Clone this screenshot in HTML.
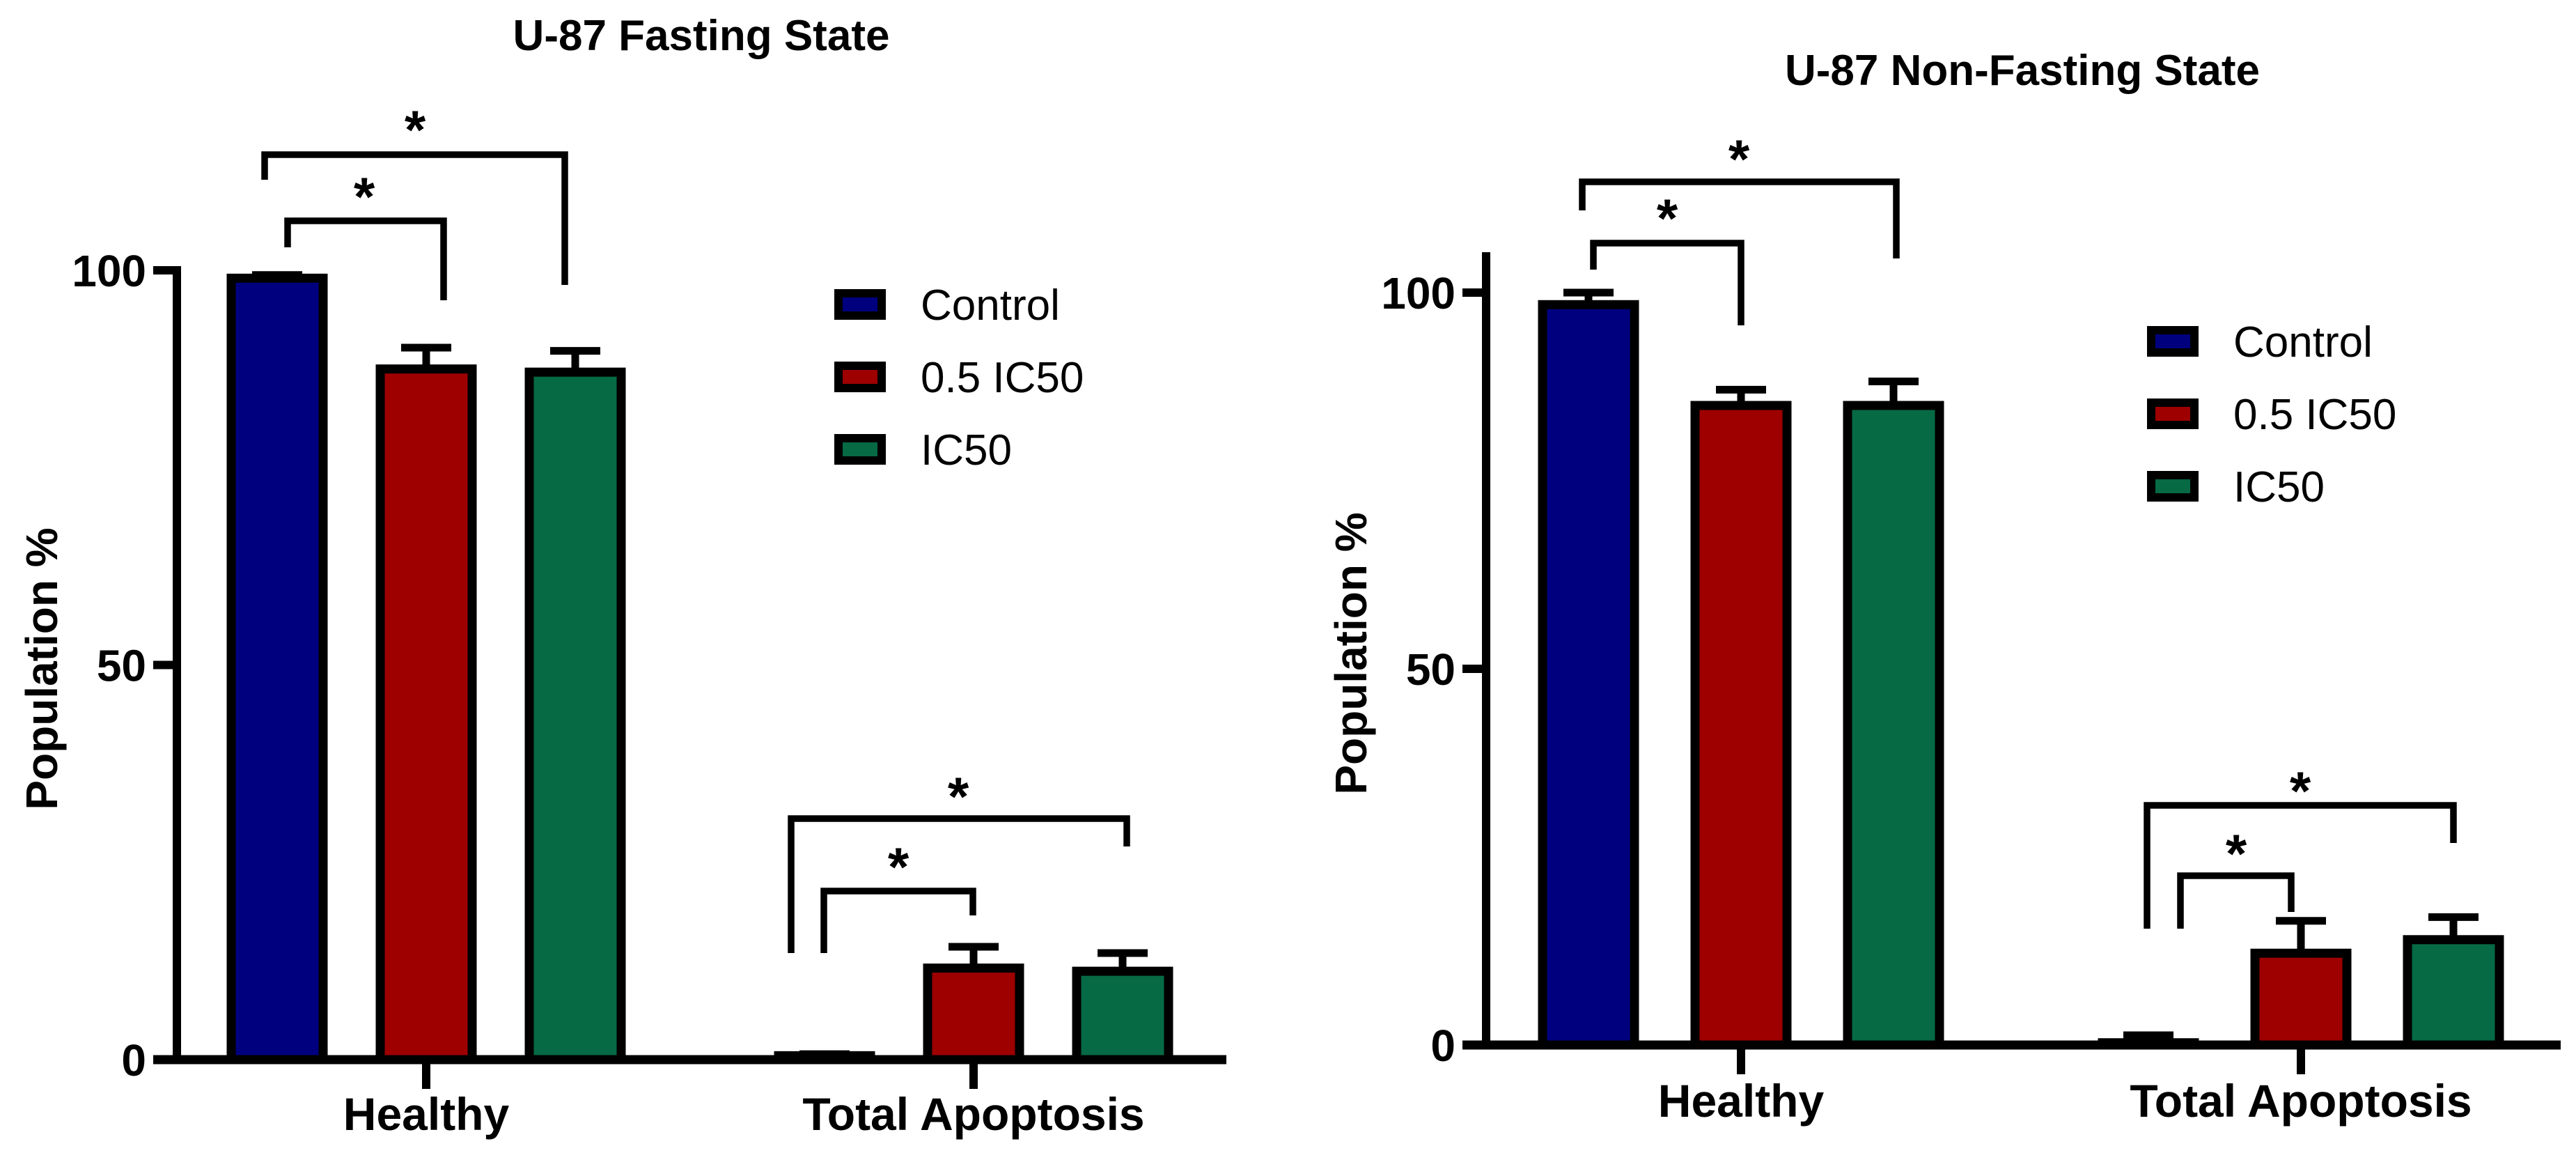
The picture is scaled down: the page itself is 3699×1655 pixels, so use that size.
<!DOCTYPE html>
<html><head><meta charset="utf-8"><style>
html,body{margin:0;padding:0;background:#fff;}
svg{display:block;font-family:"Liberation Sans",Arial,sans-serif;}
</style></head><body>
<svg id="chart" width="3699" height="1655" viewBox="0 0 3699 1655" xmlns="http://www.w3.org/2000/svg"></svg>
<script>
const categories = ["Healthy", "Total Apoptosis"];
const seriesNames = ["Control", "0.5 IC50", "IC50"];
const colors = ["#00007f", "#9e0000", "#066a44"];
const fastMeans = [[99.0, 0.5], [87.5, 11.6], [87.1, 11.2]];
const fastErr = [[0.4, 0.2], [2.7, 2.7], [2.7, 2.3]];
const nonMeans = [[98.4, 0.3], [85.0, 12.2], [85.0, 14.0]];
const nonErr = [[1.6, 1.0], [2.1, 4.3], [3.2, 3.0]];
const yTicks = [0, 50, 100];

const NS = "http://www.w3.org/2000/svg";
const svg = document.getElementById("chart");
function mk(tag, attrs, parent) {
  const e = document.createElementNS(NS, tag);
  for (const k in attrs) e.setAttribute(k, attrs[k]);
  (parent || svg).appendChild(e);
  return e;
}

const panels = [
  {title: "U-87 Fasting State", means: fastMeans, err: fastErr, key: "fasting",
   ax: 254, y0: 1521, y100: 388, axTop: 388, xEnd: 1761, groups: [612, 1398], step: 214, bw: 132,
   titleX: 1007, titleY: 72, ytX: 60, ytY: 960, catY: 1622,
   legX: 1198, legTx: 1322, legY: [437, 541, 645],
   brackets: [
     {g: 0, top: 222, lx: 380, rx: 811, lb: 258, rb: 409, star: [596, 171]},
     {g: 0, top: 317, lx: 413, rx: 637, lb: 355, rb: 431, star: [523, 267]},
     {g: 1, top: 1175, lx: 1136, rx: 1618, lb: 1368, rb: 1215, star: [1376, 1128]},
     {g: 1, top: 1279, lx: 1183, rx: 1397, lb: 1368, rb: 1314, star: [1290, 1229]}]},
  {title: "U-87 Non-Fasting State", means: nonMeans, err: nonErr, key: "non-fasting",
   ax: 2134, y0: 1500, y100: 420, axTop: 368, xEnd: 3677, groups: [2500, 3304], step: 219, bw: 132,
   titleX: 2904, titleY: 122, ytX: 1940, ytY: 938, catY: 1603,
   legX: 3083, legTx: 3207, legY: [490, 594, 698],
   brackets: [
     {g: 0, top: 261, lx: 2272, rx: 2723, lb: 302, rb: 371, star: [2497, 213]},
     {g: 0, top: 349, lx: 2288, rx: 2500, lb: 387, rb: 467, star: [2394, 298]},
     {g: 1, top: 1156, lx: 3083, rx: 3523, lb: 1333, rb: 1210, star: [3303, 1120]},
     {g: 1, top: 1257, lx: 3131, rx: 3290, lb: 1333, rb: 1309, star: [3211, 1210]}]}
];

panels.forEach(p => {
  const g = mk("g", {});
  
  
  const yScale = v => p.y0 + (p.y100 - p.y0) * v / 100;

  const t = mk("text", {x: p.titleX, y: p.titleY, "text-anchor": "middle", "font-size": 62, "font-weight": "bold"}, g);
  t.textContent = p.title;
  
  

  const yt = mk("text", {x: 0, y: 0, "text-anchor": "middle", "font-size": 64, "font-weight": "bold", transform: `translate(${p.ytX + 22},${p.ytY}) rotate(-90)`}, g);
  yt.textContent = "Population %";
  
  

  p.means.forEach((ser, s) => {
    ser.forEach((v, c) => {
      const cx = p.groups[c] + (s - 1) * p.step;
      const top = yScale(v);
      const r = mk("rect", {x: cx - p.bw / 2, y: top, width: p.bw, height: Math.max(0.1, p.y0 - top), fill: colors[s], stroke: "#000", "stroke-width": 13}, g);
      
      
      const capY = yScale(v + p.err[s][c]);
      const e = mk("path", {d: `M${cx},${top - 6}V${capY}M${cx - 36},${capY}H${cx + 36}`, stroke: "#000", "stroke-width": 11, fill: "none"}, g);
      
      
    });
  });

  const ya = mk("line", {x1: p.ax, y1: p.axTop - 6, x2: p.ax, y2: p.y0 + 6, stroke: "#000", "stroke-width": 12}, g);
  
  
  const xa = mk("line", {x1: p.ax - 34, y1: p.y0, x2: p.xEnd, y2: p.y0, stroke: "#000", "stroke-width": 13}, g);
  
  
  yTicks.forEach(v => {
    const y = yScale(v);
    const tk = mk("line", {x1: p.ax - 34, y1: y, x2: p.ax, y2: y, stroke: "#000", "stroke-width": 12}, g);
    
    
    const tl = mk("text", {x: p.ax - 44, y: y + 23, "text-anchor": "end", "font-size": 64, "font-weight": "bold"}, g);
    tl.textContent = v;
    
    
  });
  categories.forEach((c, i) => {
    const x = p.groups[i];
    const tk = mk("line", {x1: x, y1: p.y0, x2: x, y2: p.y0 + 42, stroke: "#000", "stroke-width": 12}, g);
    
    
    const tl = mk("text", {x: x, y: p.catY, "text-anchor": "middle", "font-size": 66, "font-weight": "bold"}, g);
    tl.textContent = c;
    
    
  });

  p.brackets.forEach(b => {
    const br = mk("path", {d: `M${b.lx},${b.lb}V${b.top}H${b.rx}V${b.rb}`, stroke: "#000", "stroke-width": 9.5, fill: "none"}, g);
    
    
    const st = mk("text", {x: b.star[0], y: b.star[1] + 42, "text-anchor": "middle", "font-size": 78, "font-weight": "bold"}, g);
    st.textContent = "*";
    
    
  });

  seriesNames.forEach((n, s) => {
    const y = p.legY[s];
    const sw = mk("rect", {x: p.legX + 6, y: y - 16, width: 62, height: 32, fill: colors[s], stroke: "#000", "stroke-width": 12}, g);
    
    
    const lt = mk("text", {x: p.legTx, y: y + 22, "font-size": 62}, g);
    lt.textContent = n;
    
    
  });
});
</script>
</body></html>
